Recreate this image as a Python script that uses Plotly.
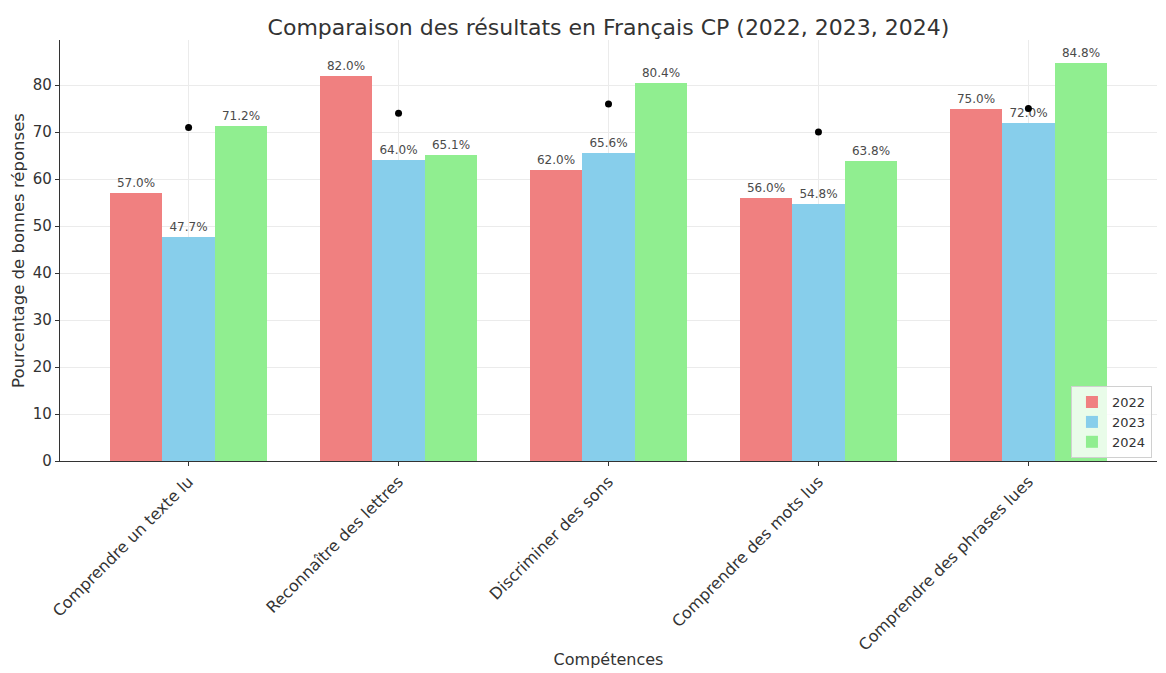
import plotly.graph_objects as go

categories = ["Comprendre un texte lu", "Reconnaître des lettres", "Discriminer des sons",
              "Comprendre des mots lus", "Comprendre des phrases lues"]
years = ["2022", "2023", "2024"]
v2022 = [57.0, 82.0, 62.0, 56.0, 75.0]
v2023 = [47.7, 64.0, 65.6, 54.8, 72.0]
v2024 = [71.2, 65.1, 80.4, 63.8, 84.8]
reference = [71, 74, 76, 70, 75]
colors = ["#F08080", "#87CEEB", "#90EE90"]

idx = list(range(len(categories)))
width = 0.25
series = [v2022, v2023, v2024]

# the page body adds an 8px offset; plot area target (screen): x 60..1157, y 40..461
W, H, OFF = 1166, 673, 8
L, T, R, B = 60 - OFF, 40 - OFF, 1157 - OFF, 461 - OFF

fig = go.Figure()
for k, (yr, vals, col) in enumerate(zip(years, series, colors)):
    off = (k - 1) * width
    fig.add_trace(go.Bar(
        x=[i + off for i in idx], y=vals, width=width, name=yr,
        marker=dict(color=col, line=dict(width=0)),
        text=[f"{v:.1f}%" for v in vals], textposition="outside",
        textfont=dict(size=12, color="#4a4a4a", family="DejaVu Sans"),
        cliponaxis=False,
    ))

fig.add_trace(go.Scatter(
    x=idx, y=reference, mode="markers", showlegend=False,
    marker=dict(color="black", size=7),
))

fig.update_layout(
    width=W, height=H,
    margin=dict(l=L, r=W - R, t=T, b=H - B),
    paper_bgcolor="white", plot_bgcolor="white",
    font=dict(family="DejaVu Sans", color="#333", size=15),
    title=dict(text="Comparaison des résultats en Français CP (2022, 2023, 2024)",
               x=0.5, xanchor="center", xref="paper",
               y=1 - (27 - OFF) / H, yanchor="middle",
               font=dict(size=22, color="#333")),
    bargap=0, barmode="overlay",
    legend=dict(x=0.9954, y=0.007, xanchor="right", yanchor="bottom",
                bgcolor="rgba(255,255,255,0.8)", bordercolor="#d0d0d0", borderwidth=1,
                font=dict(size=13, color="#333"), tracegroupgap=0),
    xaxis=dict(
        range=[-0.6125, 4.6125], tickmode="array", tickvals=idx, ticktext=categories,
        tickangle=-45, showgrid=True, gridcolor="#ebebeb", gridwidth=1,
        showline=True, linecolor="#333", linewidth=1.2, ticks="outside", ticklen=4,
        tickcolor="#333", zeroline=False, automargin=False,
        tickfont=dict(size=16, family="DejaVu Sans"),
        title=dict(text="Compétences", font=dict(size=16), standoff=0),
    ),
    yaxis=dict(
        range=[0, 89.6], tickmode="array", tickvals=[0, 10, 20, 30, 40, 50, 60, 70, 80],
        showgrid=True, gridcolor="#ebebeb", gridwidth=1, zeroline=False,
        showline=True, linecolor="#333", linewidth=1.2, ticks="outside", ticklen=4,
        tickcolor="#333", automargin=False,
        title=dict(text="Pourcentage de bonnes réponses", font=dict(size=16.5), standoff=4),
    ),
)

fig.write_html("out.html")
